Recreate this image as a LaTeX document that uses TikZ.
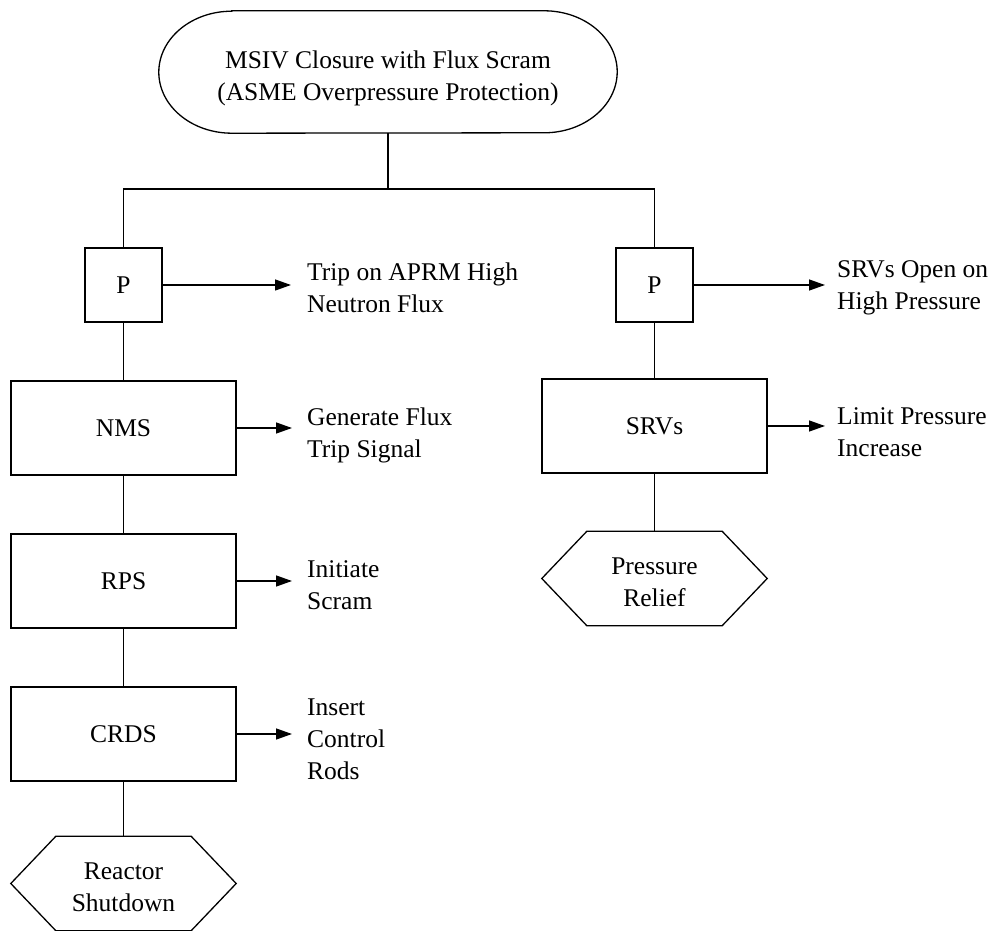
\documentclass[tikz,border=0pt]{standalone}
\usepackage{fontspec}
\setmainfont{Liberation Serif}
\usepackage{tikz}
\usetikzlibrary{arrows.meta,positioning,calc}
\newcommand{\diagfont}{\fontsize{25.5}{32}\selectfont}
\tikzset{
    wire/.style={line width=1.3pt},
    flowbox/.style={draw,line width=1.3pt,minimum width=225pt,minimum height=94pt,inner sep=0pt,font=\diagfont},
    pbox/.style={flowbox,minimum width=77pt,minimum height=74pt},
    endbox/.style={minimum width=225pt,minimum height=94pt,inner sep=0pt,align=center,font=\diagfont},
    startbox/.style={minimum width=458pt,minimum height=122pt,inner sep=0pt,align=center,font=\diagfont},
    action/.style={anchor=west,align=left,inner sep=0pt,font=\diagfont},
    flow/.style={line width=1.3pt,-{Triangle[length=16pt,width=11pt]}}
}
\newcommand{\hexoutline}[1]{%
    \draw[wire] (#1.west) -- ([xshift=45pt]#1.north west) -- ([xshift=-45pt]#1.north east)
        -- (#1.east) -- ([xshift=-45pt]#1.south east) -- ([xshift=45pt]#1.south west) -- cycle;}

\begin{document}
\begin{tikzpicture}[x=1pt,y=1pt]
    \useasboundingbox (0,0) rectangle (993,930);

    \node[startbox] (msiv) at (388,858) {\rule{0pt}{30pt}MSIV Closure with Flux Scram\\(ASME Overpressure Protection)};
    \draw[wire] ([xshift=73pt]msiv.north west) -- ([xshift=-73pt]msiv.north east)
        arc[start angle=90,end angle=-90,x radius=73pt,y radius=61pt]
        -- ([xshift=73pt]msiv.south west)
        arc[start angle=270,end angle=90,x radius=73pt,y radius=61pt] -- cycle;
    \coordinate (bus) at (388,741);

    \node[pbox] (pflux) at (123.5,645) {P};
    \node[flowbox] (nms) at (123.5,502) {NMS};
    \node[flowbox] (rps) at (123.5,349) {RPS};
    \node[flowbox] (crds) at (123.5,196) {CRDS};
    \node[endbox] (shutdown) at (123.5,46.5) {\rule{0pt}{24pt}Reactor\\Shutdown};
    \hexoutline{shutdown}

    \node[pbox] (ppress) at (654.5,645) {P};
    \node[flowbox] (srvs) at (654.5,504) {SRVs};
    \node[endbox] (relief) at (654.5,351.5) {\rule{0pt}{24pt}Pressure\\Relief};
    \hexoutline{relief}

    \node[action] (tripflux) at (307,642) {Trip on APRM High\\Neutron Flux};
    \node[action] (gensig) at (307,495) {Generate Flux\\Trip Signal};
    \node[action] (initscram) at (307,345) {Initiate\\Scram};
    \node[action] (insrods) at (307,190.5) {Insert\\Control\\Rods};
    \node[action] (srvopen) at (837,642) {SRVs Open on\\High Pressure};
    \node[action] (limitp) at (837,498) {Limit Pressure\\Increase};

    \draw[wire] (msiv.south) -- (bus);
    \draw[wire] (pflux.north) |- (bus) -| (ppress.north);
    \draw[wire] (pflux.south) -- (nms.north);
    \draw[wire] (nms.south) -- (rps.north);
    \draw[wire] (rps.south) -- (crds.north);
    \draw[wire] (crds.south) -- (shutdown.north);
    \draw[wire] (ppress.south) -- (srvs.north);
    \draw[wire] (srvs.south) -- (relief.north);

    \draw[flow] (pflux.east) -- ([xshift=-16pt]tripflux.west |- pflux.east);
    \draw[flow] (nms.east) -- ([xshift=-15pt]gensig.west |- nms.east);
    \draw[flow] (rps.east) -- ([xshift=-15pt]initscram.west |- rps.east);
    \draw[flow] (crds.east) -- ([xshift=-15pt]insrods.west |- crds.east);
    \draw[flow] (ppress.east) -- ([xshift=-12pt]srvopen.west |- ppress.east);
    \draw[flow] (srvs.east) -- ([xshift=-12pt]limitp.west |- srvs.east);
\end{tikzpicture}
\end{document}
